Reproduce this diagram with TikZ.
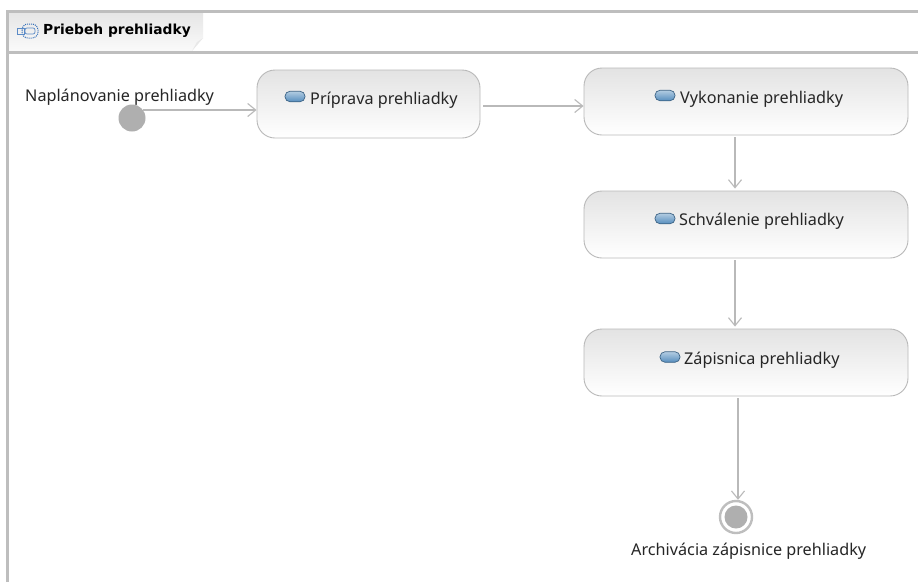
\documentclass[tikz,border=0pt]{standalone}
\usepackage{fontspec}
\setmainfont{Noto Sans}
\newfontfamily\titlefont{DejaVu Sans}
\usetikzlibrary{arrows.meta}
\definecolor{framegray}{RGB}{190,190,190}
\definecolor{edgegray}{RGB}{185,185,185}
\definecolor{dotgray}{RGB}{175,175,175}
\definecolor{pillblue}{RGB}{86,142,190}
\definecolor{iconblue}{RGB}{50,110,185}
\tikzset{
  activity/.style={draw=edgegray,line width=0.9pt,rounded corners=18pt,top color=black!11,bottom color=white,inner sep=0pt},
  flow/.style={draw=edgegray,line width=1.1pt,-{Straight Barb[length=8pt,width=13pt,line width=1.1pt]}},
  framebar/.style={draw=framegray,line width=3pt},
  lab/.style={font=\fontsize{16.2}{19}\selectfont,text=black!85,anchor=west,inner sep=0pt},
  pill/.style={draw=pillblue!70!black,line width=0.7pt,rounded corners=5pt,top color=pillblue!45,bottom color=pillblue,minimum width=20pt,minimum height=10.5pt,inner sep=0pt}
}
\begin{document}
\begin{tikzpicture}[x=1pt,y=-1pt]
\useasboundingbox (0,0) rectangle (918,582);
\fill[white] (0,0) rectangle (918,582);
% tab
\path[top color=black!10,bottom color=black!2] (8,12) -- (203,12) -- (203,38) -- (192,51) -- (8,51) -- cycle;
\fill[black!9] (203,38) -- (197,42) -- (192,51) -- cycle;
% frame
\draw[framebar] (7,582) -- (7,11.5) -- (918,11.5);
\draw[framebar] (7,52) -- (918,52);
% tab icon
\draw[iconblue,line width=1pt,densely dotted,rounded corners=6pt] (22,24) rectangle (38,38);
\draw[iconblue!80,line width=0.7pt,rounded corners=2pt] (25,28) rectangle (35,34);
\draw[iconblue!80,line width=0.7pt] (17,28) rectangle (24,34);
\node[anchor=west,inner sep=0pt,font=\titlefont\fontsize{13.8}{16}\selectfont\bfseries] (title) at (43,31) {Priebeh prehliadky};
% activities
\node[activity,minimum width=223pt,minimum height=68pt] (prip) at (368.5,104) {};
\node[activity,minimum width=324pt,minimum height=67pt] (vyk) at (746,101.5) {};
\node[activity,minimum width=324pt,minimum height=67pt] (sch) at (746,224.5) {};
\node[activity,minimum width=324pt,minimum height=67pt] (zap) at (746,362.5) {};
\node[pill] (pa) at (295,96.5) {};
\node[pill] (pb) at (665,95.5) {};
\node[pill] (pc) at (665,218.5) {};
\node[pill] (pd) at (670,357) {};
\node[lab] (la) at (310,100) {Príprava prehliadky};
\node[lab] (lb) at (680,99) {Vykonanie prehliadky};
\node[lab] (lc) at (679,221) {Schválenie prehliadky};
\node[lab] (ld) at (684,360) {Zápisnica prehliadky};
% start and end
\node[circle,fill=dotgray,draw=none,minimum size=27pt,inner sep=0pt] (start) at (132,118) {};
\node[circle,draw=framegray,line width=2.4pt,fill=white,minimum size=32pt,inner sep=0pt] (endo) at (736,517) {};
\node[circle,fill=dotgray,minimum size=23pt,inner sep=0pt] (endi) at (736,517) {};
\node[lab] (ls) at (25,97) {Naplánovanie prehliadky};
\node[lab] (le) at (631,551) {Archivácia zápisnice prehliadky};
% flows
\draw[flow] ([xshift=11pt,yshift=8pt]start.center) -- ([yshift=-6pt]prip.west);
\draw[flow] ([yshift=-2pt,xshift=3pt]prip.east) -- ([yshift=-4.5pt]vyk.west);
\draw[flow] ([xshift=-11pt,yshift=-2pt]vyk.south) -- ([xshift=-11pt,yshift=2pt]sch.north);
\draw[flow] ([xshift=-11pt,yshift=-2pt]sch.south) -- ([xshift=-11pt,yshift=2pt]zap.north);
\draw[flow] ([xshift=-8pt,yshift=-2pt]zap.south) -- ([xshift=2pt]endo.north);
\end{tikzpicture}
\end{document}
